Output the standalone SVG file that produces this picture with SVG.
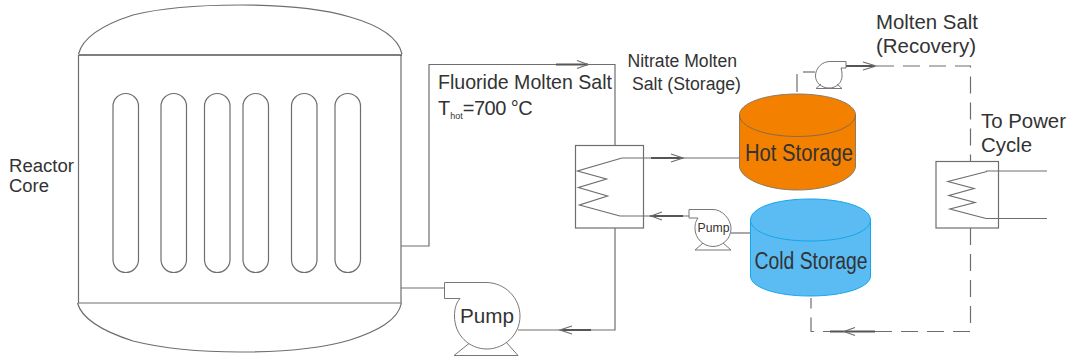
<svg xmlns="http://www.w3.org/2000/svg" width="1070" height="357" viewBox="0 0 1070 357">
<style>
.l{fill:none;stroke:#6e6e6e;stroke-width:1.2}
.c{fill:none;stroke:#6e6e6e;stroke-width:1.2}
.d{fill:none;stroke:#6e6e6e;stroke-width:1.2;stroke-dasharray:17 9}
.h{fill:none;stroke:#555;stroke-width:1.8}
.p{fill:#fff;stroke:#777;stroke-width:1}
text{font-family:"Liberation Sans",Arial,sans-serif;fill:#333}
</style>
<rect width="1070" height="357" fill="#fff"/>
<g id="connectors">
<path class="c" d="M401 246H429V64.500H615V146"/>
<path class="c" d="M401 288H445"/>
<path class="c" d="M615 228V330H518"/>
<path class="c" d="M622 158H739"/>
<path class="c" d="M620 216H690"/>
<path class="c" d="M731 233H752"/>
<path class="c" d="M797 74V92"/>
<path class="c" d="M803 72H815"/>
<path class="d" d="M877 66H970.500V161"/>
<path class="d" d="M970.500 228V331.500H811V298"/>
<path class="c" d="M986 171H1047M986 218.500H1047"/>
<path class="h" d="M556 64.500H588M651 158H683M650 216H683M561 330H591M846 66H875M830 331.500H875"/>
<path class="c" d="M577 60.500L588 64.500L577 68.500M671 154L683 158L671 162M662 212L651 216L662 220M572 326L560 330L572 334M863 62L876 66L863 70M855 327.500L844 331.500L855 335.500"/>
</g>
<g id="reactor">
<path class="l" d="M78.500 55V303M401 55V303"/>
<path class="l" d="M78.500 54C83 36 105 24 133 15C165 7 205 5 240 5C275 5 320 8 350 17C378 25 398 36 402 54"/>
<path stroke="#555" stroke-width="1.5" fill="none" d="M78.500 55H402"/>
<path class="l" d="M78 303H401"/>
<path class="l" d="M77.500 303C82 320 105 332 133 341C165 349 205 352 240 352C275 352 320 349 350 340C378 331 398 320 401.500 303"/>
<rect class="l" x="113" y="93.500" width="25.500" height="179" rx="12.700"/>
<rect class="l" x="161" y="93.500" width="25.500" height="179" rx="12.700"/>
<rect class="l" x="204.500" y="93.500" width="25.500" height="179" rx="12.700"/>
<rect class="l" x="243" y="93.500" width="25.500" height="179" rx="12.700"/>
<rect class="l" x="291.500" y="93.500" width="25.500" height="179" rx="12.700"/>
<rect class="l" x="335" y="93.500" width="25.500" height="179" rx="12.700"/>
<text x="9" y="172" font-size="18" textLength="65" lengthAdjust="spacingAndGlyphs">Reactor</text>
<text x="9" y="192" font-size="18" textLength="40" lengthAdjust="spacingAndGlyphs">Core</text>
</g>
<g id="fluoride-label">
<text x="438" y="89" font-size="20.500" textLength="174" lengthAdjust="spacingAndGlyphs">Fluoride Molten Salt</text>
<text x="438" y="115" font-size="20">T<tspan font-size="9" dy="4">hot</tspan><tspan dy="-4" letter-spacing="-0.5">=700 °C</tspan></text>
</g>
<g id="nitrate-label">
<text x="627.500" y="67" font-size="18" textLength="109.500" lengthAdjust="spacingAndGlyphs">Nitrate Molten</text>
<text x="632" y="90" font-size="18" textLength="109" lengthAdjust="spacingAndGlyphs">Salt (Storage)</text>
</g>
<g id="hx1">
<rect class="l" x="575.500" y="145.500" width="68" height="82.500"/>
<path class="l" d="M622 158L577.500 171L606.500 179L578.500 187.500L607.500 196L579.500 205L620 216"/>
</g>
<g id="pump-main">
<path class="p" d="M444.500 282.500H486C505 282.500 520 298 520 316C520 335 504 349 487 349C469 349 454.500 335 454.500 316C454.500 309 456 303 460 298.500H444.500Z"/>
<path class="p" d="M454 355.500L469 343.500M518 355.500L506 342M454 355.500H518"/>
<text x="487" y="323" font-size="21" text-anchor="middle" textLength="54" lengthAdjust="spacingAndGlyphs">Pump</text>
</g>
<g id="pump-small">
<path class="p" d="M689 209.500H713C722 209.500 731 219 731 228.500C731 239 722 246.500 713 246.500C703 246.500 695 238 695 228.500C695 223 696 221 698 218H689Z"/>
<path class="p" d="M695 250L703 243M731 250L723 243M695 250H731"/>
<text x="713.500" y="232" font-size="12" text-anchor="middle" textLength="32" lengthAdjust="spacingAndGlyphs">Pump</text>
</g>
<g id="pump-recovery">
<path class="p" d="M846 61.500H830C822 61.500 815.500 68 815.500 76C815.500 83 822 88 829 88C836 88 842 83 842 76C842 73 842 71 841 68H846Z"/>
<path class="p" d="M816 88.500L821 84M842 88.500L837 84M816 88.500H842"/>
</g>
<g id="hot-storage">
<path d="M739.500 115V166C739.500 178 765 190 797.500 190C830 190 855.500 178 855.500 166V115C855.500 103 830 94 797.500 94C765 94 739.500 103 739.500 115Z" fill="#f48000" stroke="#8a7a68" stroke-width="1"/>
<path d="M739.500 115C739.500 127 765 136.500 797.500 136.500C830 136.500 855.500 127 855.500 115" fill="none" stroke="#8a6a48" stroke-width="1"/>
<text x="799" y="161" font-size="23" text-anchor="middle" textLength="108" lengthAdjust="spacingAndGlyphs">Hot Storage</text>
</g>
<g id="cold-storage">
<path d="M750.500 220V276C750.500 287 775 296 810 296C845 296 870.500 287 870.500 276V220C870.500 208 845 199 810 199C775 199 750.500 208 750.500 220Z" fill="#5bbcf4" stroke="#15a5ea" stroke-width="1"/>
<path d="M750.500 220C750.500 232 775 241 810 241C845 241 870.500 232 870.500 220" fill="none" stroke="#15a5ea" stroke-width="1"/>
<text x="811" y="269" font-size="23" text-anchor="middle" textLength="113" lengthAdjust="spacingAndGlyphs">Cold Storage</text>
</g>
<g id="hx2">
<rect class="l" x="936" y="161.500" width="62.500" height="66.500"/>
<path class="l" d="M987 171.500L948 181.500L974 188.500L949 195.500L975 202.500L950 209L986 218.500"/>
</g>
<g id="recovery-label">
<text x="876" y="29" font-size="19.500" textLength="102" lengthAdjust="spacingAndGlyphs">Molten Salt</text>
<text x="876" y="52.500" font-size="19.500" textLength="100" lengthAdjust="spacingAndGlyphs">(Recovery)</text>
</g>
<g id="power-label">
<text x="981" y="128" font-size="19.500" textLength="85" lengthAdjust="spacingAndGlyphs">To Power</text>
<text x="981" y="152" font-size="19.500" textLength="51" lengthAdjust="spacingAndGlyphs">Cycle</text>
</g>
</svg>
